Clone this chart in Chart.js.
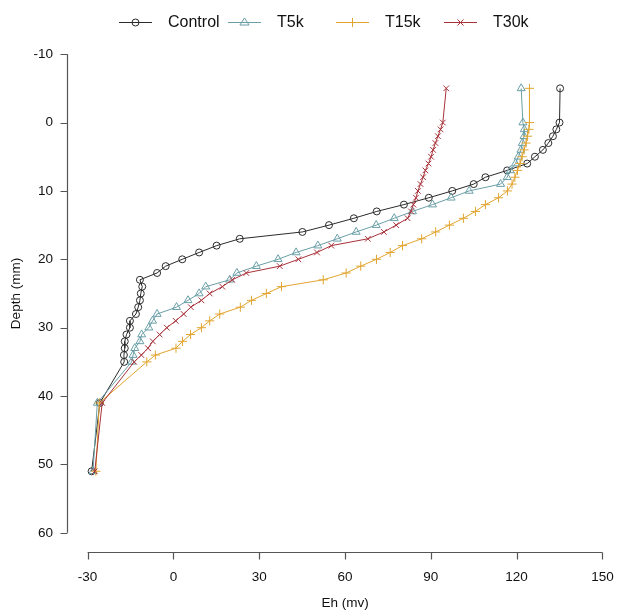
<!DOCTYPE html>
<html><head><meta charset="utf-8">
<script src="https://cdn.jsdelivr.net/npm/chart.js@4/dist/chart.umd.min.js"></script>
<style>html,body{margin:0;padding:0;background:#fff}#wrap{width:630px;height:612px;position:relative}</style>
</head><body><div id="wrap"><canvas id="c" width="630" height="612"></canvas></div>
<script>
const depths = [-5,0,1,2,3,4,5,6,7,8,9,10,11,12,13,14,15,16,17,18,19,20,21,22,23,24,25,26,27,28,29,30,31,32,33,34,35,41,51];
const ehControl = [135.2,135.0,133.9,132.7,131.1,129.2,126.4,123.7,116.7,109.1,105.0,97.5,89.3,80.6,71.1,63.1,54.4,45.1,23.2,15.1,9.0,3.1,-2.7,-5.7,-11.7,-10.9,-11.4,-11.7,-12.3,-13.1,-15.2,-15.2,-16.4,-17.0,-17.0,-17.3,-17.2,-25.7,-28.6];
const ehT5k = [121.6,122.2,122.7,122.6,122.0,121.5,120.6,119.6,117.8,116.7,114.4,103.4,97.1,90.6,83.6,77.2,70.9,63.9,57.3,50.5,42.9,36.6,29.0,22.2,19.7,11.3,9.0,5.1,1.1,-5.7,-7.3,-8.6,-11.1,-11.7,-13.5,-14.1,-14.6,-26.6,-28.1];
const ehT15k = [124.5,124.5,124.3,123.8,123.3,122.6,121.9,121.2,120.3,119.4,118.4,116.8,113.7,109.1,105.6,101.4,96.5,91.7,86.8,80.1,75.8,71.0,65.5,60.4,52.4,37.8,32.5,27.3,23.4,16.2,12.7,9.8,6.0,3.2,0.9,-6.3,-9.3,-25.9,-27.1];
const ehT30k = [95.4,94.2,93.4,92.5,91.6,90.8,90.1,89.2,88.1,87.3,86.4,85.5,84.8,83.9,83.1,81.9,77.9,73.6,68.0,55.2,50.2,43.7,37.2,25.5,20.6,17.1,12.7,9.8,6.1,3.6,0.8,-2.3,-4.8,-7.2,-8.9,-11.2,-13.7,-24.9,-27.5];
const seriesNames = ['Control','T5k','T15k','T30k'];
const xTicks = [-30,0,30,60,90,120,150];
const yTicks = [-10,0,10,20,30,40,50,60];
const xTitle = 'Eh (mv)';
const yTitle = 'Depth (mm)';

const colors = ['#2b2b2b','#6a9fa7','#e2a531','#a8323a'];
const styles = ['circle','triangle','cross','crossRot'];
const radii = [3.5,4.6,4.6,4.0];
const allVals = [ehControl, ehT5k, ehT15k, ehT30k];

const datasets = allVals.map((vals,i)=>({
  label: seriesNames[i],
  data: vals.map((v,k)=>({x:v, y:depths[k]})),
  showLine: true,
  borderColor: colors[i],
  borderWidth: 1,
  pointStyle: styles[i],
  pointRadius: radii[i],
  pointBorderWidth: 1,
  pointBorderColor: colors[i],
  pointBackgroundColor: 'rgba(0,0,0,0)',
  order: 3 - i,
  tension: 0
}));

const FONT = '"Liberation Sans", Arial, sans-serif';

function marker(ctx, style, x, y, r){
  ctx.beginPath();
  if(style==='circle'){ ctx.arc(x,y,r,0,Math.PI*2); }
  else if(style==='triangle'){
    const h=r*1.5; ctx.moveTo(x, y-r); ctx.lineTo(x+r*0.866*1.15, y+r*0.5*1.1); ctx.lineTo(x-r*0.866*1.15, y+r*0.5*1.1); ctx.closePath();
  } else if(style==='cross'){ ctx.moveTo(x-r,y); ctx.lineTo(x+r,y); ctx.moveTo(x,y-r); ctx.lineTo(x,y+r); }
  else { const d=r*0.75; ctx.moveTo(x-d,y-d); ctx.lineTo(x+d,y+d); ctx.moveTo(x-d,y+d); ctx.lineTo(x+d,y-d); }
  ctx.stroke();
}

const rAxes = {
  id:'rAxes',
  afterDraw(chart){
    const ctx=chart.ctx, xs=chart.scales.x, ys=chart.scales.y, ca=chart.chartArea;
    ctx.save();
    ctx.strokeStyle='#555'; ctx.lineWidth=1.2;
    // x axis
    const yb = Math.round(ca.bottom)+0.5;
    ctx.beginPath();
    ctx.moveTo(xs.getPixelForValue(xTicks[0]), yb);
    ctx.lineTo(xs.getPixelForValue(xTicks[xTicks.length-1]), yb);
    xTicks.forEach(v=>{const p=Math.round(xs.getPixelForValue(v))+0.5; ctx.moveTo(p,yb); ctx.lineTo(p,yb+7);});
    // y axis
    const xl = Math.round(ca.left)+0.5;
    ctx.moveTo(xl, ys.getPixelForValue(yTicks[0]));
    ctx.lineTo(xl, ys.getPixelForValue(yTicks[yTicks.length-1]));
    yTicks.forEach(v=>{const p=Math.round(ys.getPixelForValue(v))+0.5; ctx.moveTo(xl,p); ctx.lineTo(xl-7,p);});
    ctx.stroke();
    // labels
    ctx.fillStyle='#111';
    ctx.font='13.5px '+FONT;
    ctx.textAlign='center'; ctx.textBaseline='middle';
    xTicks.forEach(v=>ctx.fillText(String(v), xs.getPixelForValue(v), 577));
    ctx.textAlign='right';
    yTicks.forEach(v=>ctx.fillText(String(v), 53, ys.getPixelForValue(v)));
    ctx.textAlign='center';
    ctx.font='13.5px '+FONT;
    ctx.fillText(xTitle, (ca.left+ca.right)/2, 603);
    ctx.save();
    ctx.translate(16, (ca.top+ca.bottom)/2);
    ctx.rotate(-Math.PI/2);
    ctx.fillText(yTitle, 0, 0);
    ctx.restore();
    // legend
    const lx = [119,228,336,444];
    const ly = 22;
    ctx.font='16px '+FONT;
    ctx.textAlign='left';
    lx.forEach((x0,i)=>{
      ctx.strokeStyle=colors[i]; ctx.lineWidth=1;
      ctx.beginPath(); ctx.moveTo(x0,ly+0.5); ctx.lineTo(x0+33,ly+0.5); ctx.stroke();
      marker(ctx, styles[i], x0+16.5, ly+0.5, radii[i]);
      ctx.fillStyle='#111';
      ctx.fillText(seriesNames[i], x0+49, ly+1);
    });
    ctx.restore();
  }
};

new Chart(document.getElementById('c'), {
  type:'scatter',
  data:{datasets},
  options:{
    responsive:false, animation:false, devicePixelRatio:1,
    layout:{padding:{left:67,right:7,top:35,bottom:60}},
    plugins:{legend:{display:false}, tooltip:{enabled:false}},
    scales:{
      x:{type:'linear', min:-37.2, max:157.2, display:false},
      y:{type:'linear', min:-12.8, max:62.8, reverse:true, display:false}
    }
  },
  plugins:[rAxes]
});
</script></body></html>
